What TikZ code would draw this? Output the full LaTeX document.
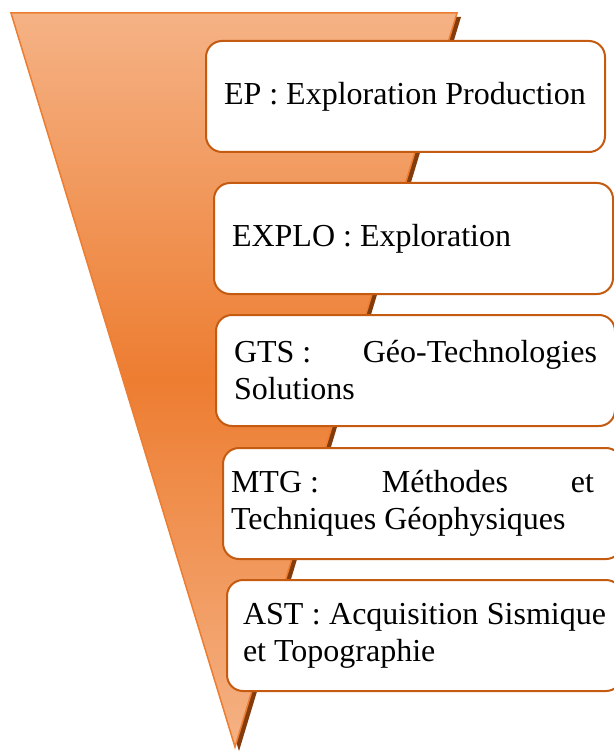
\documentclass[tikz,border=0pt]{standalone}
\usepackage{fontspec}
\setmainfont{Liberation Serif}
\usepackage{tikz}
\usetikzlibrary{calc,shapes,positioning}
\definecolor{funnellight}{RGB}{245,178,133}
\definecolor{funneldark}{RGB}{237,125,49}
\definecolor{funnelshadow}{RGB}{132,60,12}
\definecolor{boxline}{RGB}{197,90,17}
\hyphenpenalty=10000
\exhyphenpenalty=10000
\tolerance=10000
\tikzstyle{entry}=[rectangle,rounded corners=8pt,draw=boxline,line width=1pt,
fill=white,anchor=north west,text width=181.5pt,inner xsep=9pt,
minimum height=55.5pt,align=justify]
\tikzset{rmargin/.style={execute at begin node={\rightskip=#1}}}

\begin{document}
\begin{tikzpicture}[x=0.5pt, y=-0.5pt, font=\fontsize{16pt}{18.5pt}\selectfont]
    \useasboundingbox (0,0) rectangle (614,753);

    % funnel
    \fill[funnelshadow] (15,17) -- (461,17) -- (239,751) -- cycle;
    \shadedraw[top color=funnellight, bottom color=funnellight,
      middle color=funneldark, draw=funneldark, line width=0.75pt]
      (11,13) -- (457,13) -- (235,747) -- cycle;

    % levels
    \node[entry] (ep) at (205,40) {EP : Exploration Production};
    \node[entry] (explo) at (213,182) {EXPLO : Exploration};
    \node[entry] (gts) at (215,314) {\mbox{GTS :} Géo-Technologies Solutions};
    \node[entry, inner xsep=4pt, text width=191.5pt, rmargin=10pt] (mtg)
      at (222,447) {\mbox{MTG :} Méthodes et Techniques Géophysiques};
    \node[entry, inner xsep=8pt] (ast) at (226,579)
      {AST : Acquisition Sismique et Topographie};
\end{tikzpicture}
\end{document}
